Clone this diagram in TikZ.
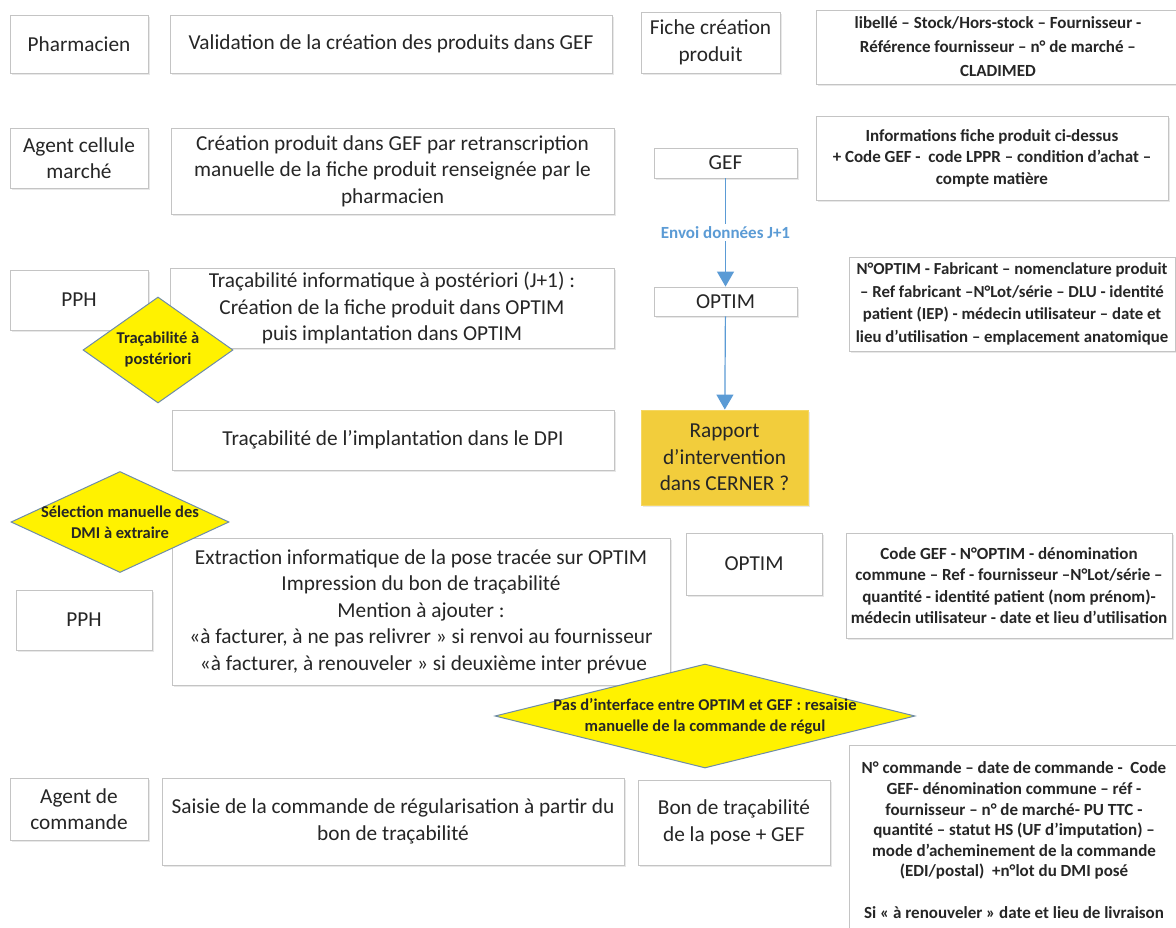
\documentclass[tikz,border=0pt]{standalone}
\usepackage{fontspec}
\setmainfont{Carlito}
\usetikzlibrary{shapes.geometric,arrows.meta,shadows}
\definecolor{boxline}{HTML}{C4C4C4}
\definecolor{txt}{HTML}{262626}
\definecolor{arrowblue}{HTML}{5B9BD5}
\definecolor{gold}{HTML}{F2CD3C}
\definecolor{dialine}{HTML}{6E8CA8}
\tikzset{
  box/.style={draw=boxline, line width=0.9pt, fill=white, align=center, inner sep=0pt, text=txt,
    font=\fontsize{21.3}{26.5}\selectfont,
    drop shadow={shadow xshift=1.5pt, shadow yshift=-2pt, opacity=0.18, fill=gray}},
  info/.style={box, font=\bfseries\fontsize{17}{21.5}\selectfont},
  dia/.style={diamond, draw=dialine, line width=1pt, fill=yellow, inner sep=0pt},
  diatext/.style={align=center, text=txt, font=\bfseries\fontsize{16.5}{21}\selectfont, inner sep=0pt},
  flow/.style={draw=arrowblue, line width=1.2pt, -{Triangle[width=17pt,length=15pt]}},
  flowlabel/.style={fill=white, text=arrowblue, font=\bfseries\fontsize{17}{20}\selectfont, inner sep=2pt},
}
\begin{document}
\begin{tikzpicture}[x=1pt,y=-1pt]
\useasboundingbox[fill=white] (0,0) rectangle (1176,927);

% row 1
\node[box, minimum width=138pt, minimum height=58pt] (pharm) at (79,44) {Pharmacien};
\node[box, minimum width=442pt, minimum height=58pt] (valid) at (391,44) {Validation de la création des produits dans GEF};
\node[box, minimum width=139pt, minimum height=61pt] (fiche) at (710.5,42.5) {Fiche création\\produit};
\node[info, minimum width=364pt, minimum height=74pt, font=\bfseries\fontsize{17}{24}\selectfont] (r1) at (998,47) {libellé – Stock/Hors-stock – Fournisseur -\\Référence fournisseur – n° de marché –\\CLADIMED};

% row 2
\node[box, minimum width=138pt, minimum height=60pt] (agent1) at (79,158) {Agent cellule\\marché};
\node[box, minimum width=443pt, minimum height=86pt] (creation) at (392.5,171) {Création produit dans GEF par retranscription\\manuelle de la fiche produit renseignée par le\\pharmacien};
\node[box, minimum width=143pt, minimum height=30pt] (gef) at (725.5,163) {GEF};
\node[info, minimum width=352pt, minimum height=84pt] (r2) at (992,158) {Informations fiche produit ci-dessus\\+ Code GEF -\ \ code LPPR – condition d’achat –\\compte matière};

% row 3
\node[box, minimum width=138pt, minimum height=60pt] (pph1) at (79,300) {PPH};
\node[box, minimum width=444pt, minimum height=80pt] (tracinfo) at (392,308) {Traçabilité informatique à postériori (J+1) :\\Création de la fiche produit dans OPTIM\\puis implantation dans OPTIM};
\node[box, minimum width=143pt, minimum height=29pt] (optim1) at (725.5,301.5) {OPTIM};
\node[info, minimum width=326pt, minimum height=94pt, font=\bfseries\fontsize{16.8}{22.5}\selectfont] (r3) at (1012,304) {N°OPTIM - Fabricant – nomenclature produit\\– Ref fabricant –N°Lot/série – DLU - identité\\patient (IEP) - médecin utilisateur – date et\\lieu d’utilisation – emplacement anatomique};

% row 4
\node[box, minimum width=442pt, minimum height=60pt] (dpi) at (393,440) {Traçabilité de l’implantation dans le DPI};
\node[box, fill=gold, draw=gold!80!white, minimum width=167pt, minimum height=95pt] (rapport) at (724.5,457.5) {Rapport\\d’intervention\\dans CERNER ?};

% row 5
\node[box, minimum width=498pt, minimum height=147pt] (extract) at (421,611.5) {Extraction informatique de la pose tracée sur OPTIM\\Impression du bon de traçabilité\\Mention à ajouter :\\«à facturer, à ne pas relivrer » si renvoi au fournisseur\\\ «à facturer, à renouveler » si deuxième inter prévue};
\node[box, minimum width=136pt, minimum height=62pt] (optim2) at (754,564) {OPTIM};
\node[info, minimum width=326pt, minimum height=105pt] (r4) at (1009,585.5) {Code GEF - N°OPTIM - dénomination\\commune – Ref - fournisseur –N°Lot/série –\\quantité - identité patient (nom prénom)-\\médecin utilisateur - date et lieu d’utilisation};
\node[box, minimum width=136pt, minimum height=60pt] (pph2) at (84,620) {PPH};

% row 6
\node[box, minimum width=138pt, minimum height=62pt] (agent2) at (79,809) {Agent de\\commande};
\node[box, minimum width=462pt, minimum height=87pt] (saisie) at (393,821.5) {Saisie de la commande de régularisation à partir du\\bon de traçabilité};
\node[box, minimum width=192pt, minimum height=85pt] (bon) at (734,822.5) {Bon de traçabilité\\de la pose + GEF};
\node[info, minimum width=330pt, minimum height=190pt, font=\bfseries\fontsize{17}{20.6}\selectfont] (r5) at (1014,840) {N° commande – date de commande -\ \ Code\\GEF- dénomination commune – réf -\\fournisseur – n° de marché- PU TTC -\\quantité – statut HS (UF d’imputation) –\\mode d’acheminement de la commande\\(EDI/postal)\ \ +n°lot du DMI posé\\[20.6pt]Si « à renouveler » date et lieu de livraison};

% connectors
\draw[flow] (gef) -- node[flowlabel] (envoi) {Envoi données J+1} (optim1);
\draw[flow] (optim1) -- (rapport);

% diamonds
\node[dia, minimum width=150pt, minimum height=106pt] (d1) at (158,350) {};
\node[diatext] (d1t) at (d1) {Traçabilité à\\postériori};
\node[dia, minimum width=218pt, minimum height=101pt] (d2) at (120,522) {};
\node[diatext] (d2t) at (d2) {Sélection manuelle des\\DMI à extraire};
\node[dia, minimum width=420pt, minimum height=104pt] (d3) at (705,716) {};
\node[diatext] (d3t) at (d3) {Pas d’interface entre OPTIM et GEF : resaisie\\manuelle de la commande de régul};
\end{tikzpicture}
\end{document}
